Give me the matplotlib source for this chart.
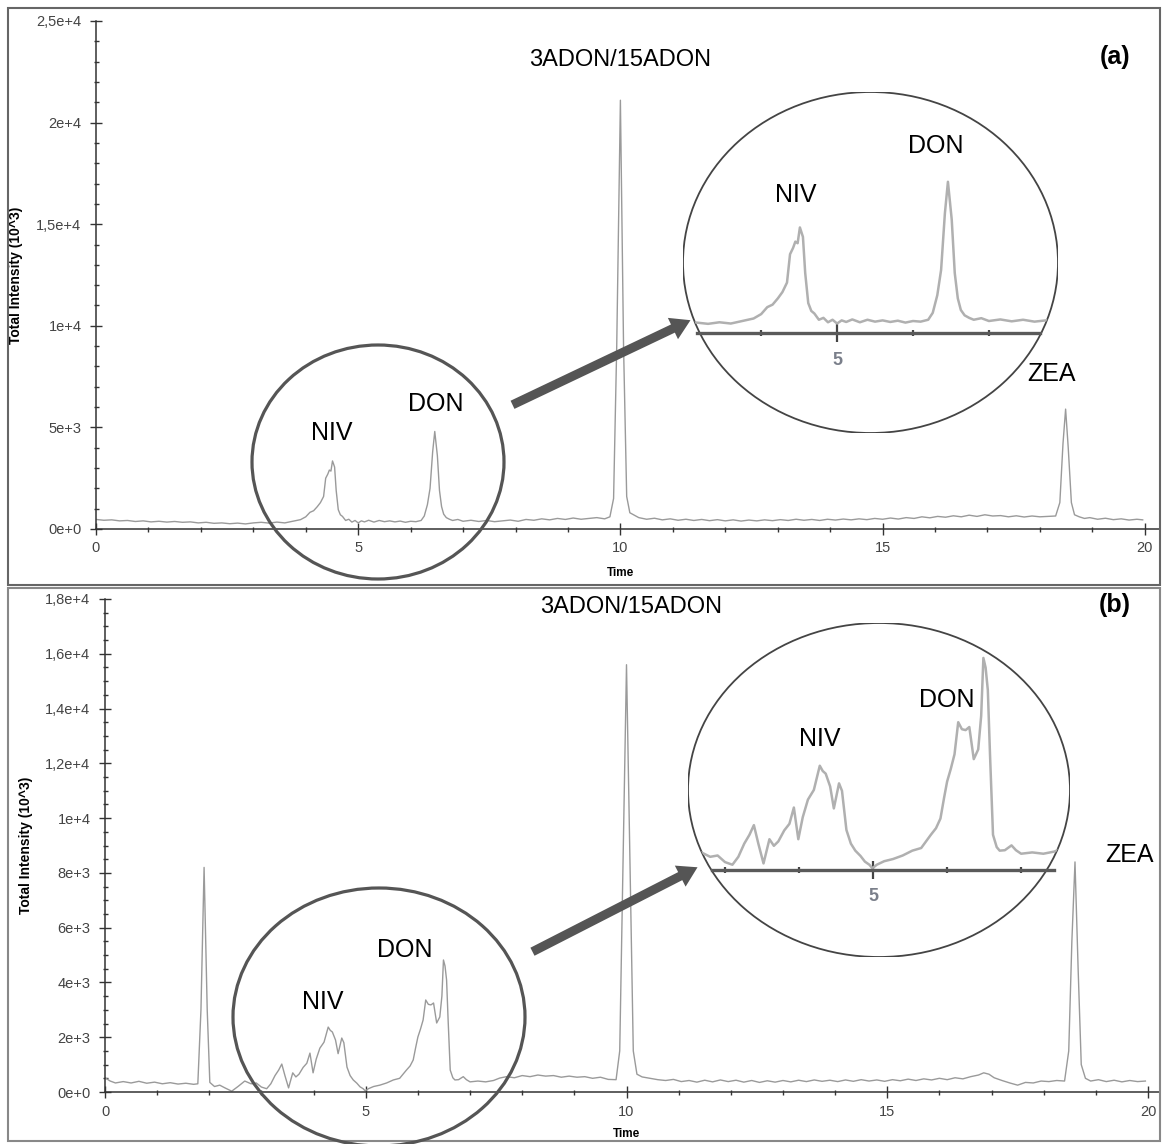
import matplotlib
matplotlib.use("Agg")
import matplotlib.pyplot as plt
from matplotlib.patches import Ellipse, Rectangle, FancyArrowPatch
from matplotlib.ticker import MultipleLocator

plt.rcParams['font.family'] = ['Liberation Sans', 'DejaVu Sans']

# ---------------- data ----------------
time_a = [0.0, 0.15, 0.3, 0.45, 0.6, 0.75, 0.9, 1.05, 1.2, 1.35, 1.5, 1.65, 1.8, 1.95, 2.1, 2.25,
          2.4, 2.55, 2.7, 2.85, 3.0, 3.15, 3.3, 3.45, 3.6, 3.75, 3.9, 4.0, 4.08, 4.15, 4.22, 4.28,
          4.34, 4.38, 4.42, 4.45, 4.48, 4.51, 4.55, 4.58, 4.62, 4.66, 4.7, 4.76, 4.82, 4.88, 4.94,
          5.0, 5.06, 5.12, 5.2, 5.3, 5.4, 5.5, 5.6, 5.7, 5.8, 5.9, 6.0, 6.1, 6.2, 6.26, 6.32, 6.37,
          6.42, 6.46, 6.51, 6.55, 6.59, 6.63, 6.68, 6.74, 6.8, 6.9, 7.0, 7.15, 7.3, 7.45, 7.6, 7.75,
          7.9, 8.05, 8.2, 8.35, 8.5, 8.65, 8.8, 8.95, 9.1, 9.25, 9.4, 9.55, 9.7, 9.8, 9.87, 9.93,
          10.0, 10.06, 10.12, 10.18, 10.25, 10.35, 10.5, 10.65, 10.8, 10.95, 11.1, 11.25, 11.4,
          11.55, 11.7, 11.85, 12.0, 12.15, 12.3, 12.45, 12.6, 12.75, 12.9, 13.05, 13.2, 13.35,
          13.5, 13.65, 13.8, 13.95, 14.1, 14.25, 14.4, 14.55, 14.7, 14.85, 15.0, 15.15, 15.3,
          15.45, 15.6, 15.75, 15.9, 16.05, 16.2, 16.35, 16.5, 16.65, 16.8, 16.95, 17.1, 17.25,
          17.4, 17.55, 17.7, 17.85, 18.0, 18.15, 18.3, 18.38, 18.44, 18.49, 18.54, 18.6, 18.66,
          18.75, 18.85, 18.95, 19.1, 19.25, 19.4, 19.55, 19.7, 19.85, 19.96]
intensity_a = [470, 430, 450, 400, 420, 370, 400, 350, 380, 340, 370, 330, 350, 300, 330, 280,
               300, 260, 290, 250, 300, 330, 290, 340, 300, 380, 460, 600, 820, 900, 1100, 1300,
               1600, 2500, 2700, 2900, 2850, 3350, 3050, 1900, 950, 700, 620, 420, 480, 340, 420,
               300, 400, 350, 430, 340, 420, 360, 400, 350, 390, 330, 380, 360, 420, 640, 1200, 2000,
               3800, 4800, 3600, 1900, 1100, 730, 560, 480, 420, 470, 380, 430, 370, 420, 360, 400,
               440, 380, 470, 430, 500, 450, 520, 470, 540, 480, 520, 560, 500, 600, 1500, 9000,
               21100, 9000, 1600, 800, 700, 560, 480, 530, 450, 500, 430, 480, 420,
               470, 410, 460, 400, 450, 390, 440, 400, 450, 410, 460, 420, 480,
               430, 470, 420, 480, 440, 490, 450, 500, 460, 520, 480, 540, 490,
               560, 520, 600, 550, 620, 580, 650, 600, 680, 620, 700, 640, 660,
               600, 650, 590, 640, 600, 620, 640, 1300, 4200, 5900, 4000, 1300, 700,
               600, 520, 560, 480, 530, 460, 500, 440, 480, 450]

time_b = [0.0, 0.1, 0.2, 0.35, 0.5, 0.65, 0.8, 0.95, 1.1, 1.25, 1.4, 1.55, 1.7, 1.78, 1.84, 1.9,
          1.96, 2.01, 2.1, 2.2, 2.3, 2.43, 2.55, 2.68, 2.8, 2.9, 3.0, 3.1, 3.18, 3.26, 3.33, 3.39,
          3.45, 3.52, 3.6, 3.66, 3.72, 3.8, 3.87, 3.93, 3.99, 4.05, 4.12, 4.2, 4.28, 4.32, 4.36,
          4.42, 4.47, 4.54, 4.58, 4.64, 4.7, 4.76, 4.83, 4.89, 4.95, 4.99, 5.05, 5.15, 5.27, 5.4,
          5.53, 5.65, 5.78, 5.85, 5.91, 5.96, 6.0, 6.05, 6.1, 6.15, 6.2, 6.25, 6.3, 6.36, 6.42,
          6.46, 6.49, 6.52, 6.55, 6.58, 6.62, 6.67, 6.71, 6.78, 6.87, 6.93, 7.0, 7.15, 7.3, 7.45,
          7.57, 7.7, 7.85, 8.0, 8.15, 8.3, 8.45, 8.6, 8.75, 8.9, 9.05, 9.2, 9.35, 9.5, 9.65, 9.8,
          9.87, 9.93, 10.0, 10.07, 10.13, 10.2, 10.3, 10.45, 10.6, 10.75, 10.9, 11.05, 11.2, 11.35,
          11.5, 11.65, 11.8, 11.95, 12.1, 12.25, 12.4, 12.55, 12.7, 12.85, 13.0, 13.15, 13.3,
          13.45, 13.6, 13.75, 13.9, 14.05, 14.2, 14.35, 14.5, 14.65, 14.8, 14.95, 15.1, 15.25,
          15.4, 15.55, 15.7, 15.85, 16.0, 16.15, 16.3, 16.45, 16.6, 16.75, 16.85, 16.95, 17.05,
          17.2, 17.35, 17.5, 17.65, 17.8, 17.95, 18.1, 18.25, 18.4, 18.48, 18.54, 18.6, 18.66,
          18.72, 18.8, 18.9, 19.05, 19.2, 19.35, 19.5, 19.65, 19.8, 19.95]
intensity_b = [520, 400, 330, 380, 330, 390, 320, 360, 300, 340, 290, 320, 280, 300, 3000, 8200,
               3000, 350, 200, 250, 150, 30, 200, 400, 300, 330, 180, 120, 300, 600, 800, 1020,
               600, 150, 700, 550, 650, 900, 1050, 1420, 700, 1200, 1600, 1820, 2370, 2250, 2190,
               1900, 1400, 1970, 1800, 910, 600, 440, 320, 190, 120, 40, 120, 200, 250, 330,
               440, 500, 800, 950, 1170, 1650, 2010, 2300, 2630, 3360, 3200, 3180, 3250, 2520, 2740,
               3500, 4820, 4600, 4090, 2600, 800, 520, 440, 450, 560, 450, 370, 400, 370, 420,
               510, 560, 520, 600, 560, 620, 580, 600, 540, 580, 540, 560, 500, 540, 460, 450,
               1500, 8000, 15600, 8000, 1500, 650, 550, 500, 450, 420, 460, 380, 420, 360,
               430, 370, 440, 380, 430, 360, 420, 350, 410, 360, 420, 370, 430,
               380, 440, 390, 430, 380, 440, 390, 450, 400, 440, 390, 450, 410,
               470, 420, 480, 440, 500, 450, 520, 480, 560, 620, 700, 650, 520,
               420, 330, 250, 350, 330, 400, 380, 420, 400, 1500, 5500, 8400, 4500,
               1000, 500, 400, 450, 380, 430, 370, 420, 380, 400]

x_major = [0, 5, 10, 15, 20]
x_major_labels = ['0', '5', '10', '15', '20']
y_ticks_a = [0, 5000, 10000, 15000, 20000, 25000]
y_labels_a = ['0e+0', '5e+3', '1e+4', '1,5e+4', '2e+4', '2,5e+4']
y_ticks_b = [0, 2000, 4000, 6000, 8000, 10000, 12000, 14000, 16000, 18000]
y_labels_b = ['0e+0', '2e+3', '4e+3', '6e+3', '8e+3', '1e+4', '1,2e+4', '1,4e+4', '1,6e+4', '1,8e+4']

# ---------------- layout helpers ----------------
W, H = 1167, 1144
fig = plt.figure(figsize=(W / 100, H / 100), dpi=100)


def fbox(x0, y0, x1, y1):
    return [x0 / W, 1 - y1 / H, (x1 - x0) / W, (y1 - y0) / H]


def fpt(x, y):
    return (x / W, 1 - y / H)


AX_COL = '#333333'
TRACE = '#9a9a9a'
DARK = '#555555'


def style_main(ax, xmax, ymax, yticks, ylabels, yminor):
    ax.set_xlim(0, xmax)
    ax.set_ylim(0, ymax)
    for s in ['top', 'right']:
        ax.spines[s].set_visible(False)
    for s in ['left', 'bottom']:
        ax.spines[s].set_color(AX_COL)
        ax.spines[s].set_linewidth(1.1)
    ax.set_xticks(x_major, x_major_labels)
    ax.set_yticks(yticks, ylabels)
    ax.xaxis.set_minor_locator(MultipleLocator(1))
    ax.yaxis.set_minor_locator(MultipleLocator(yminor))
    ax.tick_params(which='major', direction='inout', length=8, width=1.0, color=AX_COL,
                   labelsize=10.5, labelcolor='#444444')
    ax.tick_params(axis='y', which='major', pad=6.5)
    ax.tick_params(axis='x', which='major', pad=5.0)
    ax.tick_params(which='minor', direction='inout', length=3.6, width=1.0, color=AX_COL)
    ax.set_xlabel('Time', fontsize=8.5, fontweight='bold')
    ax.set_ylabel('Total Intensity (10^3)', fontsize=10, fontweight='bold')


# ---------------- panel (a) ----------------
ax_a = fig.add_axes(fbox(96, 21, 1160, 529))
ax_a.plot(time_a, intensity_a, color=TRACE, lw=1.0)
style_main(ax_a, 20.29, 25000, y_ticks_a, y_labels_a, 1000)
ax_a.xaxis.set_label_coords(10 / 20.29, -0.075)
ax_a.yaxis.set_label_coords(-0.0686, 0.5)

# ---------------- panel (b) ----------------
ax_b = fig.add_axes(fbox(105, 599, 1160, 1092))
ax_b.plot(time_b, intensity_b, color=TRACE, lw=1.0)
style_main(ax_b, 20.23, 18000, y_ticks_b, y_labels_b, 500)
ax_b.xaxis.set_label_coords(10 / 20.23, -0.073)
ax_b.yaxis.set_label_coords(-0.068, 0.5)

# ---------------- panel frames ----------------
fig.add_artist(Rectangle(fpt(8, 585), (1160 - 8) / W, (585 - 8) / H, transform=fig.transFigure,
                         fill=False, edgecolor='#666666', lw=1.5))
fig.add_artist(Rectangle(fpt(8, 1141), (1160 - 8) / W, (1141 - 588) / H, transform=fig.transFigure,
                         fill=False, edgecolor='#888888', lw=1.5))


# ---------------- insets ----------------
def make_inset(box, xlim, ylim, t, y, bounds, label_pad):
    ax = fig.add_axes(fbox(*box))
    ax.set_xlim(*xlim)
    ax.set_ylim(*ylim)
    ax.patch.set_visible(False)
    ell = Ellipse((0.5, 0.5), 1, 1, transform=ax.transAxes, facecolor='white',
                  edgecolor='#444444', lw=1.3, zorder=0)
    ax.add_patch(ell)
    line, = ax.plot(t, y, color='#b0b0b0', lw=1.8, zorder=2)
    line.set_clip_path(ell)
    for s in ['top', 'right', 'left']:
        ax.spines[s].set_visible(False)
    sp = ax.spines['bottom']
    sp.set_position(('data', 0))
    sp.set_bounds(*bounds)
    sp.set_color('#5a5a5a')
    sp.set_linewidth(2.4)
    ax.set_yticks([])
    ax.set_xticks([5], ['5'])
    ax.set_xticks([m for m in [3, 4, 6, 7] if bounds[0] < m < bounds[1]], minor=True)
    ax.tick_params(axis='x', which='major', direction='inout', length=13, width=1.6,
                   color='#444444', pad=label_pad, labelsize=13, labelcolor='#7a7f8a')
    ax.tick_params(axis='x', which='minor', direction='inout', length=5, width=1.6,
                   color='#444444')
    for lab in ax.get_xticklabels():
        lab.set_fontweight('bold')
    return ax


make_inset((683, 92, 1058, 433), (2.97, 7.91), (-3175, 7650), time_a, intensity_a,
           (3.16, 7.67), 7.5)
make_inset((688, 623, 1070, 957), (2.50, 7.66), (-1977, 5614), time_b, intensity_b,
           (2.82, 7.45), 6.5)

# ---------------- circles on the main chromatograms ----------------
fig.add_artist(Ellipse(fpt(378, 462), 252 / W, 234 / H, transform=fig.transFigure,
                       fill=False, edgecolor=DARK, lw=2.3))
fig.add_artist(Ellipse(fpt(379, 1017), 292 / W, 258 / H, transform=fig.transFigure,
                       fill=False, edgecolor=DARK, lw=2.3))

# ---------------- arrows ----------------
for a, b in [((510, 406), (693, 319)), ((530, 953), (700, 866))]:
    fig.add_artist(FancyArrowPatch(fpt(*a), fpt(*b), transform=fig.transFigure,
                                   arrowstyle='simple,head_length=1.4,head_width=1.7,tail_width=0.65',
                                   mutation_scale=10, color=DARK, lw=0))


# ---------------- labels ----------------
def label(x, y, s, size=18, **kw):
    fig.text(x / W, 1 - y / H, s, ha='center', va='center', fontsize=size, color='black', **kw)


label(620, 60, '3ADON/15ADON', size=17)
label(1115, 57, '(a)', fontweight='bold')
label(332, 433, 'NIV')
label(436, 404, 'DON')
label(1052, 374, 'ZEA')
label(796, 195, 'NIV')
label(936, 146, 'DON')

label(631, 607, '3ADON/15ADON', size=17)
label(1115, 605, '(b)', fontweight='bold')
label(323, 1002, 'NIV')
label(405, 950, 'DON')
label(1130, 855, 'ZEA')
label(820, 739, 'NIV')
label(947, 700, 'DON')

fig.savefig('out.png', dpi=100)
